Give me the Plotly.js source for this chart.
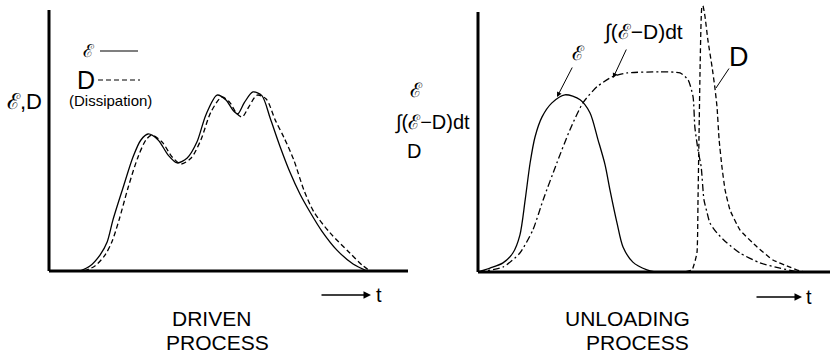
<!DOCTYPE html>
<html>
<head>
<meta charset="utf-8">
<script src="https://cdn.plot.ly/plotly-3.0.1.min.js"></script>
<style>html,body{margin:0;padding:0;background:#fff;}#chart{width:830px;height:360px;}</style>
</head>
<body>
<div id="chart"></div>
<script>
// ---- Driven process (left panel) ----
const drivenT_E = [0.86,1.14,1.42,1.62,1.78,2.06,2.34,2.56,2.76,3.04,3.32,3.57,3.85,4.12,4.37,4.68,4.93,5.13,5.26,5.44,5.68,5.93,6.16,6.43,6.71,6.99,7.27,7.60,8.02,8.47,8.86];
const drivenE   = [0,0.19,0.61,1.11,1.95,3.18,4.37,5.02,5.25,5.02,4.44,4.14,4.33,4.94,5.98,6.74,6.55,6.15,6.02,6.45,6.86,6.72,5.86,4.79,3.79,2.95,2.26,1.53,0.80,0.27,0];
const drivenT_D = [0.97,1.28,1.56,1.75,1.95,2.20,2.48,2.70,2.86,3.15,3.43,3.68,3.96,4.23,4.51,4.82,5.04,5.22,5.38,5.57,5.80,6.05,6.30,6.55,6.82,7.10,7.38,7.83,8.38,8.72,8.94];
const drivenD   = [0,0.19,0.61,1.11,1.95,3.18,4.37,5.02,5.21,4.94,4.37,4.10,4.33,5.02,6.09,6.67,6.45,6.05,5.90,6.30,6.74,6.59,5.79,5.10,4.25,3.10,2.26,1.46,0.69,0.23,0];

// ---- Unloading process (right panel) ----
const unloadT_E = [0,0.34,0.71,0.99,1.19,1.34,1.48,1.62,1.82,2.10,2.47,2.90,3.18,3.41,3.61,3.75,3.95,4.12,4.40,4.80,5.03];
const unloadE   = [0,0.15,0.35,0.73,1.42,2.77,4.19,5.19,5.96,6.50,6.81,6.62,6.12,5.08,4.12,3.15,1.88,0.96,0.38,0.08,0];
const unloadT_I = [0,0.71,1.19,1.56,1.85,2.24,2.61,2.98,3.38,3.81,4.23,5.17,5.74,5.97,6.11,6.16,6.25,6.34,6.42,6.51,6.59,6.79,7.07,7.44,8.01,8.58,8.95,9.10];
const unloadI   = [0,0.19,0.73,1.62,2.77,4.19,5.46,6.50,7.12,7.50,7.65,7.69,7.65,7.38,6.73,5.58,4.69,4.04,2.77,2.27,1.88,1.50,1.12,0.73,0.35,0.15,0.04,0];
const unloadT_D = [0,5.85,6.08,6.22,6.25,6.28,6.31,6.36,6.39,6.45,6.53,6.65,6.73,6.79,6.85,6.93,7.02,7.16,7.44,7.93,8.38,8.86,9.15,9.29];
const unloadD   = [0,0,0.08,0.73,2.77,5.35,7.88,10.19,10.23,9.81,8.92,7.88,7.08,6.35,5.08,4.04,3.15,2.38,1.62,0.96,0.46,0.19,0.04,0];

// labels
const leftYLabel = 'ℰ,D';
const rightYLabels = ['ℰ', '∫(ℰ−D)dt', 'D'];
const legendLabels = ['ℰ', 'D', '(Dissipation)'];
const curveLabels = ['ℰ', '∫(ℰ−D)dt', 'D'];
const processLabels = [['DRIVEN', 'PROCESS'], ['UNLOADING', 'PROCESS']];
const timeLabel = 't';

const W = 830, H = 360;
const px = v => v / W;
const py = v => 1 - v / H;
const FONT = 'Liberation Sans, Arial, sans-serif';
const lw = 1.3;

const traces = [
  {x: drivenT_E, y: drivenE, xaxis: 'x', yaxis: 'y', mode: 'lines', line: {color: '#000', width: lw, shape: 'spline', smoothing: 0.8}},
  {x: drivenT_D, y: drivenD, xaxis: 'x', yaxis: 'y', mode: 'lines', line: {color: '#000', width: lw, dash: '5px,3px', shape: 'spline', smoothing: 0.8}},
  {x: unloadT_E, y: unloadE, xaxis: 'x2', yaxis: 'y2', mode: 'lines', line: {color: '#000', width: lw, shape: 'spline', smoothing: 0.8}},
  {x: unloadT_I, y: unloadI, xaxis: 'x2', yaxis: 'y2', mode: 'lines', line: {color: '#000', width: lw, dash: '7px,3px,2px,3px', shape: 'spline', smoothing: 0.6}},
  {x: unloadT_D, y: unloadD, xaxis: 'x2', yaxis: 'y2', mode: 'lines', line: {color: '#000', width: lw, dash: '5px,3px', shape: 'spline', smoothing: 0.4}}
];

const hidden = {showgrid: false, zeroline: false, showticklabels: false, ticks: '', showline: false, fixedrange: true};

function ann(text, x, y, size, extra) {
  return Object.assign({text: text, x: px(x), y: py(y), xref: 'paper', yref: 'paper', showarrow: false,
    xanchor: 'center', yanchor: 'middle', font: {family: FONT, size: size, color: '#000'}}, extra || {});
}
function arrow(x0, y0, x1, y1, head, width) {
  return {text: '', x: px(x1), y: py(y1), xref: 'paper', yref: 'paper', showarrow: true,
    ax: x0 - x1, ay: y0 - y1, arrowhead: head, arrowsize: 1, arrowwidth: width || 1, arrowcolor: '#000', standoff: 0, startstandoff: 0};
}

const annotations = [
  ann(leftYLabel, 24, 101, 22),
  ann(legendLabels[0], 89, 51, 18),
  ann(legendLabels[1], 86, 80, 25),
  ann(legendLabels[2], 110, 100, 15),
  arrow(320, 295, 371, 295, 2, 1.5),
  ann(timeLabel, 379, 295, 20),
  ann(processLabels[0][0], 211, 318, 21),
  ann(processLabels[0][1], 217, 342, 21),
  ann(rightYLabels[0], 416, 90, 20),
  ann(rightYLabels[1], 432, 122, 20),
  ann(rightYLabels[2], 414, 151, 20),
  ann(curveLabels[0], 578, 53, 20),
  ann(curveLabels[1], 643, 32, 21),
  ann(curveLabels[2], 739, 57, 27),
  arrow(573, 66, 557, 97, 2, 1),
  arrow(627, 48, 613, 78, 2, 1),
  arrow(730, 67, 716, 88, 0, 1),
  arrow(755, 297, 802, 297, 2, 1.5),
  ann(timeLabel, 809, 297, 20),
  ann(processLabels[1][0], 627, 318, 21),
  ann(processLabels[1][1], 637, 342, 21)
];

const shapes = [
  // left axes
  {type: 'line', xref: 'x domain', yref: 'y domain', x0: 0, x1: 0, y0: 0, y1: 1, line: {color: '#000', width: 3}},
  {type: 'line', xref: 'x domain', yref: 'y domain', x0: 0, x1: 1, y0: 0, y1: 0, line: {color: '#000', width: 3}},
  // right axes
  {type: 'line', xref: 'x2 domain', yref: 'y2 domain', x0: 0, x1: 0, y0: 0, y1: 0.97, line: {color: '#000', width: 3}},
  {type: 'line', xref: 'x2 domain', yref: 'y2 domain', x0: 0, x1: 1, y0: 0, y1: 0, line: {color: '#000', width: 3}},
  // legend samples
  {type: 'line', xref: 'paper', yref: 'paper', x0: px(100), x1: px(138), y0: py(51), y1: py(51), line: {color: '#000', width: 1.2}},
  {type: 'line', xref: 'paper', yref: 'paper', x0: px(98), x1: px(140), y0: py(80), y1: py(80), line: {color: '#000', width: 1.2, dash: '5px,3px'}}
];

const layout = {
  width: W, height: H,
  margin: {l: 0, r: 0, t: 0, b: 0},
  paper_bgcolor: '#fff', plot_bgcolor: '#fff',
  showlegend: false,
  xaxis: Object.assign({domain: [px(49), px(408)], range: [0, 10]}, hidden),
  yaxis: Object.assign({domain: [py(271), py(10)], range: [0, 10]}, hidden),
  xaxis2: Object.assign({domain: [px(478), 1], range: [0, 10], anchor: 'y2'}, hidden),
  yaxis2: Object.assign({domain: [py(272), py(4)], range: [0, 10.3], anchor: 'x2'}, hidden),
  annotations: annotations,
  shapes: shapes
};

Plotly.newPlot('chart', traces, layout, {staticPlot: true, displayModeBar: false});
</script>
</body>
</html>
